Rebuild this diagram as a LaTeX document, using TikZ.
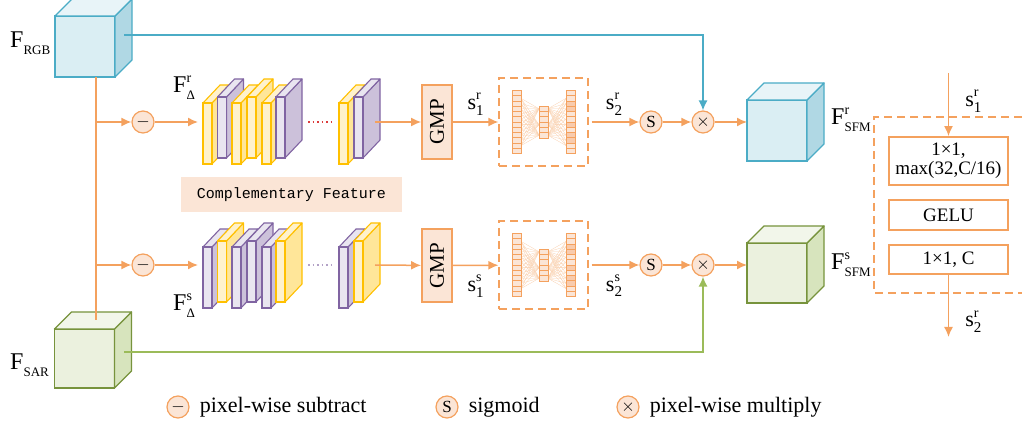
\documentclass[tikz,border=0pt]{standalone}
\usepackage{fontspec}
\setmainfont{Liberation Serif}
\setmonofont{Liberation Mono}
\usepackage{xcolor}
\usetikzlibrary{arrows.meta,positioning}

\definecolor{orgL}{RGB}{244,161,94}
\definecolor{orgF}{RGB}{251,229,214}
\definecolor{orgD}{RGB}{248,203,173}
\definecolor{bluL}{RGB}{75,172,198}
\definecolor{bluF}{RGB}{218,238,243}
\definecolor{bluS}{RGB}{176,216,228}
\definecolor{bluT}{RGB}{232,244,248}
\definecolor{grnL}{RGB}{119,147,60}
\definecolor{grnA}{RGB}{155,187,89}
\definecolor{grnF}{RGB}{235,241,222}
\definecolor{grnS}{RGB}{215,228,189}
\definecolor{grnT}{RGB}{242,246,234}
\definecolor{ylwL}{RGB}{255,192,0}
\definecolor{ylwF}{RGB}{255,242,204}
\definecolor{ylwS}{RGB}{255,230,153}
\definecolor{prpL}{RGB}{128,100,162}
\definecolor{prpF}{RGB}{233,229,240}
\definecolor{prpS}{RGB}{204,193,218}
\definecolor{dotR}{RGB}{220,60,60}

% F with stacked super/subscript
\newcommand{\fsym}[2]{F\rlap{\raisebox{0.45em}{\fontsize{14}{14}\selectfont #1}}\raisebox{-0.28em}{\fontsize{13}{13}\selectfont #2}}
\newcommand{\ssym}[2]{s\rlap{\raisebox{0.45em}{\fontsize{14}{14}\selectfont #1}}\raisebox{-0.25em}{\fontsize{15}{15}\selectfont #2}}

% side and top faces of a cube whose front is node #1
\newcommand{\cubefaces}[2]{%
  \filldraw[draw=#2L, fill=#2S, line width=1.3pt, line join=round] (#1.north east) -- ++(17,-17) -- ([shift={(17,-17)}]#1.south east) -- (#1.south east) -- cycle;
  \filldraw[draw=#2L, fill=#2T, line width=1.3pt, line join=round] (#1.north west) -- ++(17,-17) -- ([shift={(17,-17)}]#1.north east) -- (#1.north east) -- cycle;
}

% one feature plate: x, top y, colour prefix
\newcommand{\plate}[3]{%
  \filldraw[draw=#3L, fill=#3S, line width=1.1pt, line join=round] (#1+9,#2) -- ++(17,-18) -- ++(0,61) -- (#1+9,#2+61) -- cycle;
  \filldraw[draw=#3L, fill=#3F, line width=1.1pt, line join=round] (#1,#2) -- ++(17,-18) -- ++(9,0) -- (#1+9,#2) -- cycle;
  \filldraw[draw=#3L, fill=#3F, line width=1.1pt] (#1,#2) rectangle ++(9,61);
}

% small fully connected net inside a dashed box
\newcommand{\fcnet}[1]{%
  \begin{scope}[shift={(#1)}]
    \foreach \i in {1,...,10} \foreach \j in {0,3,5} {
      \draw[orgL!50, line width=0.3pt] (-22.5,-31.5+5.25*\i+2.6) -- (-4.5,-16+5.33*\j+2.7);
      \draw[orgL!50, line width=0.3pt] (22.5,-31.5+5.25*\i+2.6) -- (4.5,-16+5.33*\j+2.7);
    }
    \foreach \k in {0,...,11} {
      \filldraw[draw=orgL, fill=orgF, line width=0.7pt] (-31.5,-31.5+5.25*\k) rectangle ++(9,5.25);
      \filldraw[draw=orgL, fill=orgF, line width=0.7pt] (22.5,-31.5+5.25*\k) rectangle ++(9,5.25);
    }
    \foreach \k in {2,3,6,8,9}
      \filldraw[draw=orgL, fill=orgD, line width=0.7pt] (22.5,-31.5+5.25*\k) rectangle ++(9,5.25);
    \foreach \k in {0,...,5}
      \filldraw[draw=orgL, fill=orgF, line width=0.7pt] (-4.5,-16+5.33*\k) rectangle ++(9,5.33);
  \end{scope}
}

\begin{document}
\begin{tikzpicture}[x=1pt, y=-1pt, >={Latex[length=10pt,width=9pt]},
  every node/.style={font=\fontsize{22}{26}\selectfont},
  oline/.style={draw=orgL, line width=1.5pt},
  oarrow/.style={oline, ->},
  barrow/.style={draw=bluL, line width=1.3pt, ->},
  garrow/.style={draw=grnA, line width=1.3pt, ->},
  opcirc/.style={circle, draw=orgL, fill=orgF, line width=1.2pt, minimum size=22pt, inner sep=0pt, font=\fontsize{17}{17}\selectfont},
  cubefront/.style={draw=#1L, fill=#1F, line width=1.3pt, inner sep=0pt, outer sep=0pt, minimum width=60pt, minimum height=61pt},
  gmpbox/.style={draw=orgL, fill=orgF, line width=1.8pt, minimum width=30pt, minimum height=74pt, inner sep=0pt, font=\fontsize{21}{21}\selectfont},
  fcbox/.style={draw=orgL, line width=1.2pt, dash pattern=on 8pt off 5pt, minimum width=89pt, minimum height=88pt},
  convbox/.style={draw=orgL, fill=white, line width=1.8pt, minimum width=119pt, inner sep=0pt, align=center, font=\fontsize{19}{19}\selectfont},
  flabel/.style={anchor=base west, inner sep=0pt, font=\fontsize{24}{24}\selectfont},
  slabel/.style={inner sep=0pt, font=\fontsize{22}{22}\selectfont}]
  \useasboundingbox (0,0) rectangle (1022,427);

  % input and output cubes
  \node[cubefront=blu] (rgb) at (85,46.5) {};
  \node[cubefront=grn, minimum height=59pt] (sar) at (84.5,358.5) {};
  \node[cubefront=blu] (sfmR) at (777,130.5) {};
  \node[cubefront=grn, minimum height=60pt] (sfmS) at (777,273) {};
  \cubefaces{rgb}{blu}
  \cubefaces{sar}{grn}
  \cubefaces{sfmR}{blu}
  \cubefaces{sfmS}{grn}

  \node[flabel] at (10,48) {\fsym{}{RGB}};
  \node[flabel] at (10,370) {\fsym{}{SAR}};
  \node[flabel] at (831,125) {\fsym{r}{SFM}};
  \node[flabel] at (831,270) {\fsym{s}{SFM}};
  \node[flabel] at (173,93) {\fsym{r}{Δ}};
  \node[flabel] at (173,311) {\fsym{s}{Δ}};

  % feature stacks
  \foreach \px/\py/\pc in {203/103/ylw, 217.5/97/prp, 232/103/ylw, 247/97/ylw, 262/103/ylw, 276/97/prp, 339/103/ylw, 354/97/prp}
    {\plate{\px}{\py}{\pc}}
  \foreach \px/\py/\pc in {203/247/prp, 217.5/241/ylw, 232/247/prp, 247/241/prp, 262/247/prp, 276/241/ylw, 339/247/prp, 354/241/ylw}
    {\plate{\px}{\py}{\pc}}
  \draw[dotR, line width=1.2pt, dash pattern=on 1.5pt off 3pt] (308,122) -- (334,122);
  \draw[prpL!60, line width=1.2pt, dash pattern=on 1.5pt off 3pt] (308,265) -- (334,265);

  \node[fill=orgF, minimum width=221pt, minimum height=35pt, inner sep=0pt, font=\ttfamily\fontsize{15}{15}\selectfont] (cfeat) at (291.5,195) {Complementary Feature};

  \coordinate (trunkT) at (96,77);
  \coordinate (trunkB) at (96,320);
  \coordinate (rgbOut) at (124,35);
  \coordinate (sarOut) at (124,352);
  \coordinate (stkRin) at (198,122);
  \coordinate (stkRout) at (375,122);
  \coordinate (stkSin) at (198,265);
  \coordinate (stkSout) at (375,265);

  % operators and blocks
  \node[opcirc] (subR) at (143,122) {$-$};
  \node[opcirc] (subS) at (143,265) {$-$};
  \node[gmpbox] (gmpR) at (437,122) {\rotatebox{90}{GMP}};
  \node[gmpbox, minimum height=73pt] (gmpS) at (437,265.5) {\rotatebox{90}{GMP}};
  \node[fcbox] (fcR) at (543.5,122) {};
  \node[fcbox] (fcS) at (543.5,265) {};
  \fcnet{fcR}
  \fcnet{fcS}
  \node[opcirc, right of=fcR, node distance=107.5pt] (sigR) {S};
  \node[opcirc, right of=sigR, node distance=52pt] (mulR) {$\times$};
  \node[opcirc, right of=fcS, node distance=107.5pt] (sigS) {S};
  \node[opcirc, right of=sigS, node distance=52pt] (mulS) {$\times$};

  % connectors
  \draw[oline] (trunkT) -- (trunkB);
  \draw[oarrow] (trunkT |- subR) -- (subR);
  \draw[oarrow] (trunkT |- subS) -- (subS);
  \draw[oarrow] (subR) -- (stkRin);
  \draw[oarrow] (subS) -- (stkSin);
  \draw[oarrow] (stkRout) -- (gmpR);
  \draw[oarrow] (stkSout) -- (gmpS);
  \draw[oarrow] (gmpR) -- node[slabel, above=6pt] {\ssym{r}{1}} (fcR);
  \draw[oarrow] (gmpS) -- node[slabel, below=9pt] {\ssym{s}{1}} (fcS);
  \draw[oarrow, shorten <=3pt] (fcR) -- node[slabel, above=6pt] {\ssym{r}{2}} (sigR);
  \draw[oarrow, shorten <=3pt] (fcS) -- node[slabel, below=9pt] {\ssym{s}{2}} (sigS);
  \draw[oarrow] (sigR) -- (mulR);
  \draw[oarrow] (sigS) -- (mulS);
  \draw[oarrow] (mulR) -- (mulR -| sfmR.west);
  \draw[oarrow] (mulS) -- (mulS -| sfmS.west);
  \draw[barrow] (rgbOut) -| (mulR);
  \draw[garrow] (sarOut) -| (mulS);

  % expanded view of the fc block
  \draw[orgL, line width=1.2pt, dash pattern=on 8pt off 5pt] (1022,117) -- (874,117) -- (874,293) -- (1022,293);
  \node[convbox, minimum height=48pt] (cv1) at (948.5,161) {1×1,\\max(32,C/16)};
  \node[convbox, minimum height=30pt, below of=cv1, node distance=54pt] (gelu) {GELU};
  \node[convbox, minimum height=29pt, below of=gelu, node distance=44.5pt] (cv2) {1×1, C};
  \coordinate (sIn) at (948.5,73);
  \coordinate (sOut) at (948.5,337);
  \draw[oarrow] (sIn) -- node[slabel, right=16pt, pos=0.45] {\ssym{r}{1}} (cv1);
  \draw[oarrow] (cv2) -- node[slabel, right=16pt, pos=0.75] {\ssym{r}{2}} (sOut);

  % legend
  \node[opcirc] (lgSub) at (178,407) {$-$};
  \node[right=10pt of lgSub, inner sep=0pt] {pixel-wise subtract};
  \node[opcirc] (lgSig) at (447,407) {S};
  \node[right=10pt of lgSig, inner sep=0pt] {sigmoid};
  \node[opcirc] (lgMul) at (628,407) {$\times$};
  \node[right=10pt of lgMul, inner sep=0pt] {pixel-wise multiply};
\end{tikzpicture}
\end{document}
